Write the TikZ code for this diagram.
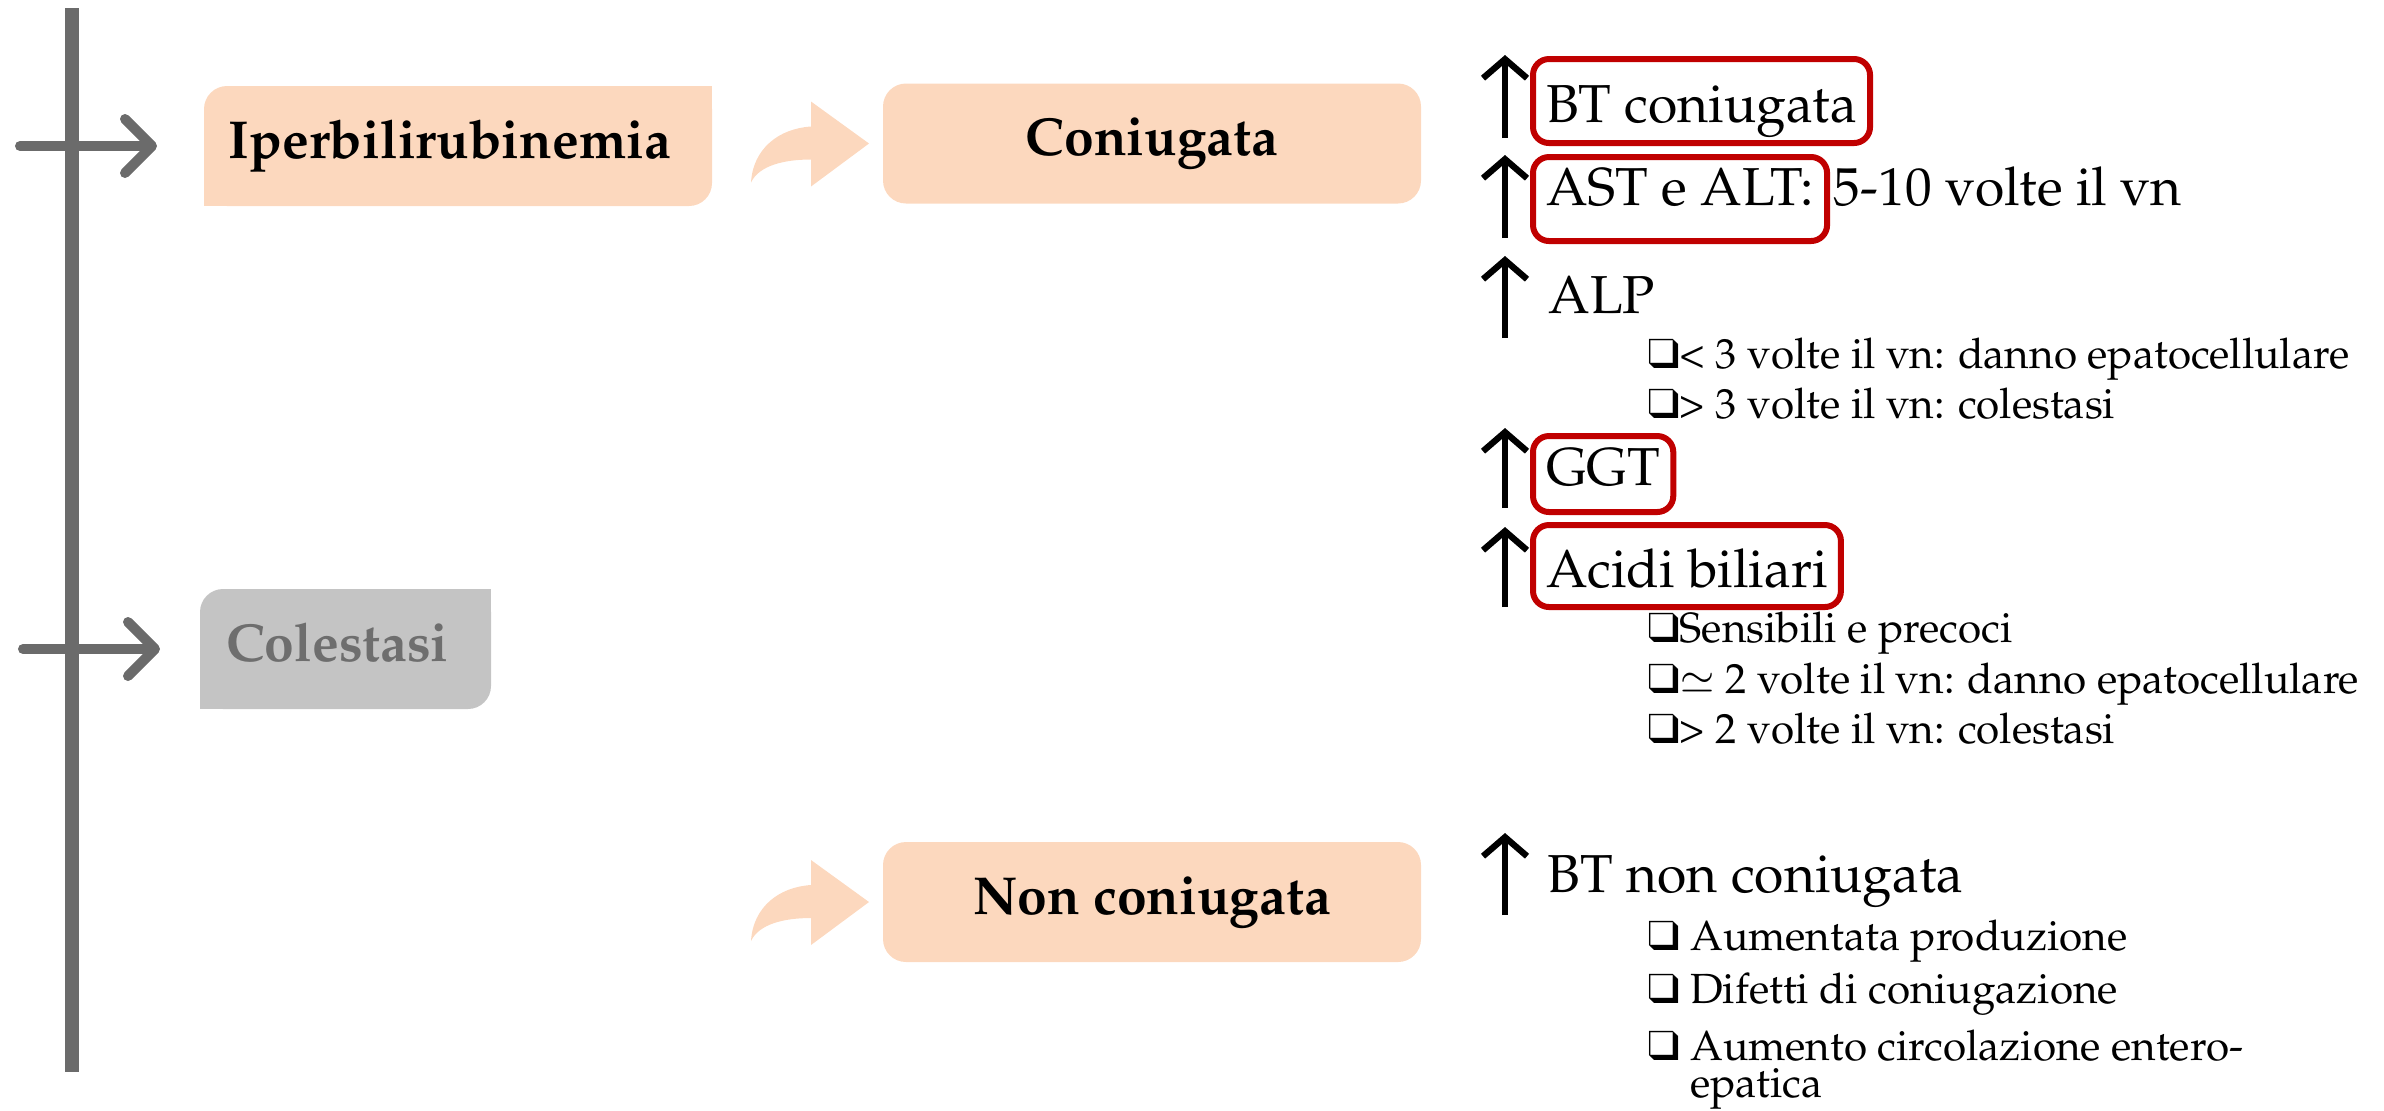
\documentclass[tikz,border=0pt]{standalone}
\usepackage[T1]{fontenc}
\usepackage{mathpazo}
\usepackage{pifont}
\usepackage{tikz}
\usetikzlibrary{arrows.meta,positioning}

\definecolor{peach}{RGB}{252,216,190}
\definecolor{boxgray}{RGB}{196,196,196}
\definecolor{textgray}{RGB}{110,110,110}
\definecolor{linegray}{RGB}{107,107,107}
\definecolor{boxred}{RGB}{192,0,0}

\newcommand{\bigfont}{\fontsize{15.2}{18}\selectfont}
\newcommand{\smallfont}{\fontsize{12}{10.6}\selectfont}
\newcommand{\cb}{\ding{113}}

% curved block arrow, tip at #1
\newcommand{\bendarrow}[1]{%
  \fill[peach, shift={(#1)}] (-1.18,-0.39) .. controls (-1.16,-0.05) and (-0.90,0.15) .. (-0.58,0.17)
    -- (-0.58,0.42) -- (0,0) -- (-0.58,-0.43) -- (-0.58,-0.16)
    .. controls (-0.85,-0.16) and (-1.10,-0.22) .. (-1.18,-0.39) -- cycle;}

\tikzset{
  stepbox/.style={fill=peach, rounded corners=0.23cm, minimum height=1.2cm,
    text height=11pt, text depth=4pt, inner sep=0pt, outer sep=0pt,
    font=\bigfont\bfseries},
  grayarrow/.style={draw=linegray, line width=0.1cm, line cap=round,
    -{Straight Barb[length=2.7mm,width=5.4mm,round]}},
  risearrow/.style={line width=1.8pt, -{Straight Barb[length=1.9mm,width=4.4mm]}},
  redbox/.style={draw=boxred, line width=0.06cm, rounded corners=0.16cm,
    anchor=base west, inner xsep=0.13cm, inner ysep=0pt, outer sep=0pt, font=\bigfont},
  textnode/.style={anchor=base west, inner sep=0pt, font=\bigfont},
  listitem/.style={anchor=base west, inner sep=0pt, font=\smallfont}
}

\begin{document}
\begin{tikzpicture}
\useasboundingbox (0,0) rectangle (23.84,-11.10);

% timeline
\coordinate (axtop) at (0.72,-0.08);
\coordinate (axbot) at (0.72,-10.72);
\draw[linegray, line width=0.14cm] (axtop) -- (axbot);

% boxes
\node[stepbox, minimum width=5.08cm] (iper) at (4.58,-1.46) {Iperbilirubinemia\hspace*{0.16cm}};
\node[stepbox, fill=boxgray, text=textgray, minimum width=2.91cm] (cole) at (3.455,-6.49) {Colestasi\hspace*{0.16cm}};
\node[stepbox, minimum width=5.38cm] (conj) at (11.52,-1.435) {Coniugata};
\node[stepbox, minimum width=5.38cm] (nonconj) at (11.52,-9.02) {Non coniugata};

\foreach \n/\c in {iper/peach, cole/boxgray} {
  \fill[\c] (\n.north east) rectangle ++(-0.3,-0.3);
  \fill[\c] (\n.south west) rectangle ++(0.3,0.3);
}

\coordinate (t1) at (0.20,-1.46);
\coordinate (t2) at (0.23,-6.49);
\draw[grayarrow] (t1) -- ([xshift=-4.7mm]iper.west);
\draw[grayarrow] (t2) -- ([xshift=-4.0mm]cole.west);

\bendarrow{[xshift=-1.4mm]conj.west}
\bendarrow{[xshift=-1.4mm]nonconj.west}

% up arrows
\foreach \t/\b in {0.55/1.38, 1.55/2.38, 2.56/3.38, 4.28/5.08, 5.27/6.07, 8.33/9.15}
  \draw[risearrow] (15.05,-\b) -- (15.05,-\t);

% coniugata
\node[redbox, text height=0.63cm, text depth=0.21cm] (btc) at (15.33,-1.22) {BT coniugata};
\node[redbox, text height=0.48cm, text depth=0.36cm] (ast) at (15.33,-2.05) {AST e ALT:};
\node[textnode] (astv) at ([xshift=0.6mm]ast.base east) {5-10 volte il vn};
\node[textnode] (alp) at (15.48,-3.13) {ALP};
\node[listitem] (alp1) at (16.47,-3.68) {\cb< 3 volte il vn: danno epatocellulare};
\node[listitem] (alp2) at (16.47,-4.18) {\cb> 3 volte il vn: colestasi};
\node[redbox, text height=0.49cm, text depth=0.27cm] (ggt) at (15.33,-4.85) {GGT};
\node[redbox, text height=0.62cm, text depth=0.20cm] (acidi) at (15.33,-5.87) {Acidi biliari};
\node[listitem] (ac1) at (16.47,-6.42) {\cb Sensibili e precoci};
\node[listitem] (ac2) at (16.47,-6.93) {\cb$\simeq$ 2 volte il vn: danno epatocellulare};
\node[listitem] (ac3) at (16.47,-7.43) {\cb> 2 volte il vn: colestasi};

% non coniugata
\node[textnode] (btn) at (15.47,-8.92) {BT non coniugata};
\node[listitem] (nc1) at (16.47,-9.50) {\cb~Aumentata produzione};
\node[listitem] (nc2) at (16.47,-10.03) {\cb~Difetti di coniugazione};
\node[listitem] (nc3) at (16.47,-10.60) {\cb~\parbox[t]{6cm}{Aumento circolazione entero-\\epatica}};
\end{tikzpicture}
\end{document}
